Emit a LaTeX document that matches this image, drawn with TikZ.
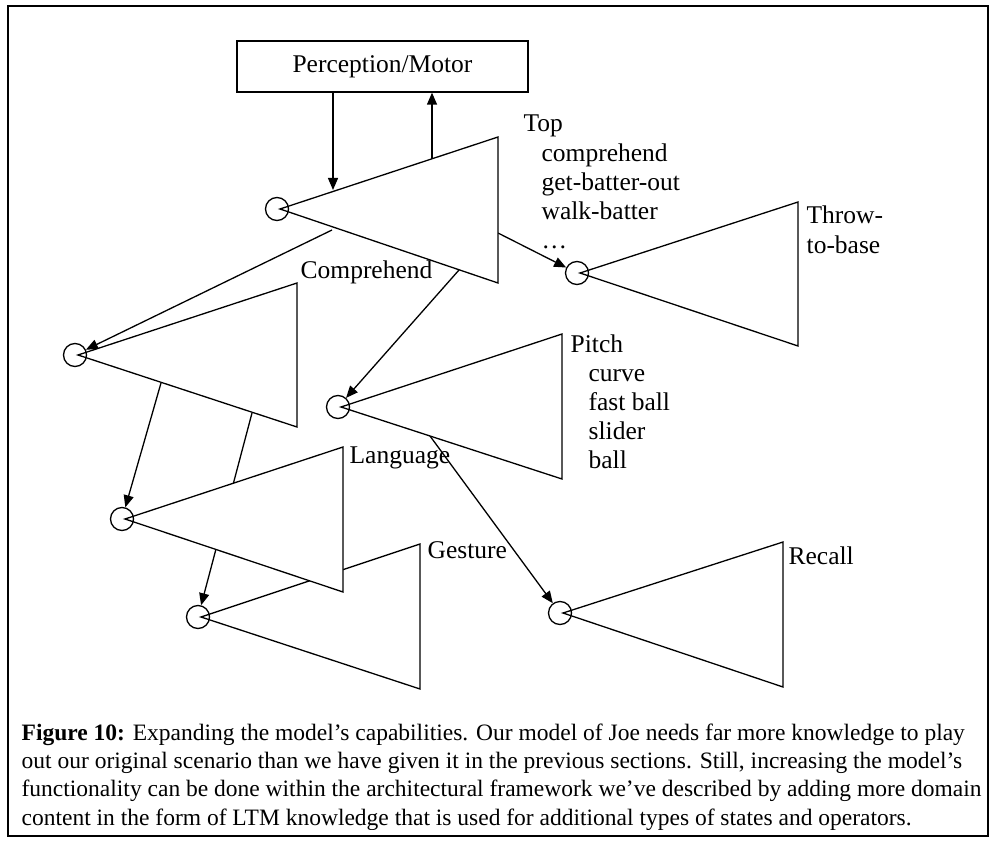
\documentclass[tikz,border=0pt]{standalone}
\usepackage{fontspec}
\setmainfont{Liberation Serif}
\usetikzlibrary{arrows.meta,backgrounds}
\newcommand{\itemind}{\hspace*{18pt}}

\begin{document}
\begin{tikzpicture}[x=1pt, y=-1pt, line width=1.3pt,
  tri/.style={draw, fill=white},
  port/.style={circle, draw, minimum size=23pt, inner sep=0pt},
  link/.style={->, line width=1.3pt},
  lbl/.style={anchor=base west, inner sep=0pt, align=left, font=\fontsize{25.5}{29}\selectfont},
  >={Triangle[length=12pt, width=10pt]}]

\useasboundingbox (0,0) rectangle (992,842);
\draw[line width=2pt] (8,6) rectangle (988,836);

\node[draw, minimum width=291pt, minimum height=51pt, font=\fontsize{25.5}{29}\selectfont] (pm) at (382.5,66.5) {Perception/Motor};

% modules, back to front
\draw[tri] (201,617) -- (420,544) -- (420,689) -- cycle;
\node[port] (gesture) at (198,617) {};

\draw[tri] (125,519) -- (343,447) -- (343,592) -- cycle;
\node[port] (language) at (122,519) {};

\draw[tri] (563,613) -- (783,542) -- (783,687) -- cycle;
\node[port] (recall) at (560,613) {};

\draw[tri] (78,355) -- (297,283) -- (297,427) -- cycle;
\node[port] (comprehend) at (75,355) {};

\draw[tri] (341,407) -- (562,334) -- (562,479) -- cycle;
\node[port] (pitch) at (338,407) {};

\draw[tri] (580,273) -- (798,202) -- (798,346) -- cycle;
\node[port] (throw) at (577,273) {};

\draw[tri] (280,209) -- (498,137) -- (498,283) -- cycle;
\node[port] (top) at (277,209) {};

% labels (base = last line)
\node[lbl] (top-lbl) at (523,248) {Top\\\itemind comprehend\\\itemind get-batter-out\\\itemind walk-batter\\\itemind …};
\node[lbl] (comprehend-lbl) at (300,278) {Comprehend};
\node[lbl] (language-lbl) at (349,463) {Language};
\node[lbl] (gesture-lbl) at (427,558) {Gesture};
\node[lbl] (pitch-lbl) at (570,468) {Pitch\\\itemind curve\\\itemind fast ball\\\itemind slider\\\itemind ball};
\node[lbl, font=\fontsize{25.5}{30}\selectfont] (throw-lbl) at (806,253) {Throw-\\to-base};
\node[lbl] (recall-lbl) at (788,564) {Recall};

% connectors
\coordinate (top-in) at (333,190);
\coordinate (top-out) at (432,159);
\coordinate (top-c) at (332,230);
\coordinate (top-p) at (459,270);
\coordinate (top-t) at (498,233);
\coordinate (comprehend-l) at (161,383);
\coordinate (comprehend-g) at (252,413);
\coordinate (pitch-r) at (430,436);
\begin{scope}[on background layer]
\draw[link] (pm.south -| top-in) -- (top-in);
\draw[link] (top-out) -- (pm.south -| top-out);
\draw[link] (top-c) -- (comprehend);
\draw[link] (top-p) -- (pitch);
\draw[link] (top-t) -- (throw);
\draw[link] (comprehend-l) -- (language);
\draw[link] (comprehend-g) -- (gesture);
\draw[link] (pitch-r) -- (recall);
\end{scope}

% caption
\begin{scope}
\clip (8,700) rectangle (988,829);
\node[anchor=base west, inner sep=0pt, align=left, font=\fontsize{23.5}{28.3}\selectfont] (caption) at (21,825) {\textbf{Figure 10:} Expanding the model’s capabilities. Our model of Joe needs far more knowledge to play\\out our original scenario than we have given it in the previous sections. Still, increasing the model’s\\functionality can be done within the architectural framework we’ve described by adding more domain\\content in the form of LTM knowledge that is used for additional types of states and operators.};
\end{scope}

\end{tikzpicture}
\end{document}
